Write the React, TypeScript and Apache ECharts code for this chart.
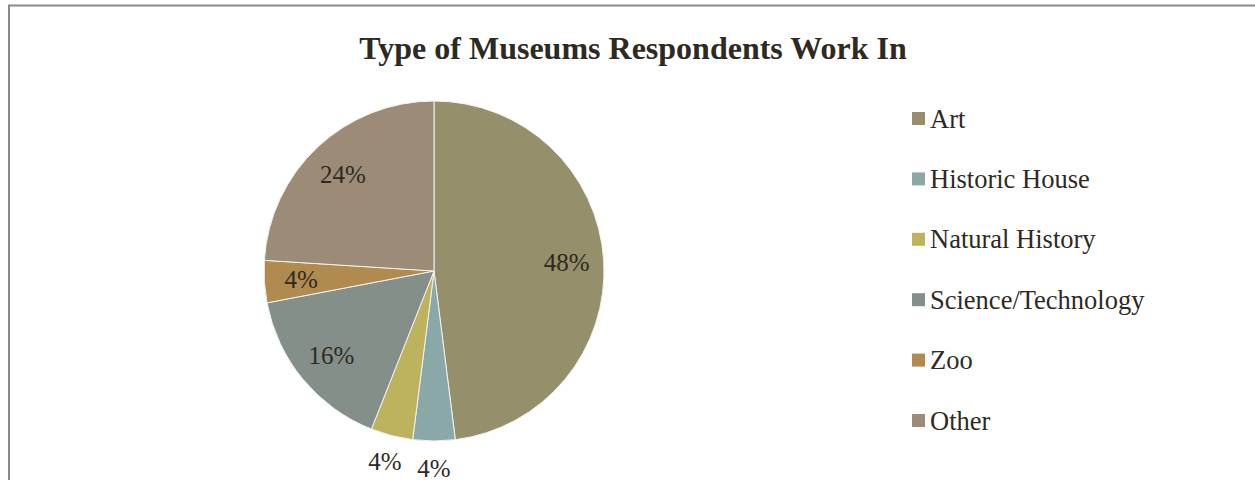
import React, { useEffect, useRef } from "react";
import * as echarts from "echarts";

const titleText = "Type of Museums Respondents Work In";
const categories = ["Art", "Historic House", "Natural History", "Science/Technology", "Zoo", "Other"];
const counts = [12, 1, 1, 4, 1, 6];
const colors = ["#968F6B", "#8BA8A9", "#BDB35E", "#848F8A", "#B08A4F", "#9C8B77"];
// which slices carry their label inside the pie, and which just below it
const insideLabel = [true, false, false, true, true, true];

const FONT = "'Liberation Serif', 'Times New Roman', serif";
const TEXT = "#2E2A22";

export default function App() {
  const ref = useRef<HTMLDivElement>(null);
  useEffect(() => {
    if (!ref.current) return;
    const chart = echarts.init(ref.current, null, { renderer: "svg" });
    const cx = 434;
    const cy = 271;
    const r = 170;
    const baseData = categories.map((name, i) => ({
      name,
      value: counts[i],
      itemStyle: { color: colors[i] },
    }));
    const overlay = (show: boolean[]) =>
      counts.map((v, i) => ({
        value: v,
        itemStyle: { color: "rgba(0,0,0,0)", borderWidth: 0 },
        label: { show: show[i] },
      }));
    chart.setOption({
      animation: false,
      backgroundColor: "#ffffff",
      graphic: [
        {
          type: "rect",
          shape: { x: 9, y: 5.5, width: 1400, height: 700 },
          style: { fill: "none", stroke: "#8A8A8A", lineWidth: 2 },
          silent: true,
        },
        {
          type: "text",
          x: 633,
          y: 48,
          style: {
            text: titleText,
            font: `bold 32px ${FONT}`,
            fill: TEXT,
            textAlign: "center",
            textVerticalAlign: "middle",
          },
        },
      ],
      legend: {
        orient: "vertical",
        left: 907,
        top: 100,
        itemGap: 33.4,
        itemWidth: 13,
        itemHeight: 13,
        icon: "rect",
        data: categories,
        selectedMode: false,
        itemStyle: { borderWidth: 0 },
        textStyle: { fontFamily: FONT, fontSize: 26.5, color: TEXT, lineHeight: 26 },
      },
      series: [
        {
          type: "pie",
          center: [cx, cy],
          radius: [0, r],
          startAngle: 90,
          clockwise: true,
          data: baseData,
          label: { show: false },
          labelLine: { show: false },
          itemStyle: { borderColor: "#F4F2EC", borderWidth: 1 },
          emphasis: { disabled: true },
        },
        {
          type: "pie",
          center: [cx, cy],
          radius: [90, r],
          startAngle: 90,
          clockwise: true,
          silent: true,
          legendHoverLink: false,
          data: overlay(insideLabel),
          label: {
            position: "inside",
            formatter: "{d}%",
            fontFamily: FONT,
            fontSize: 25,
            color: TEXT,
          },
          labelLine: { show: false },
          emphasis: { disabled: true },
        },
        {
          type: "pie",
          center: [cx, cy],
          radius: [r, r + 48],
          startAngle: 90,
          clockwise: true,
          silent: true,
          legendHoverLink: false,
          data: overlay(insideLabel.map((b) => !b)),
          label: {
            position: "inside",
            formatter: "{d}%",
            fontFamily: FONT,
            fontSize: 25,
            color: TEXT,
          },
          labelLine: { show: false },
          emphasis: { disabled: true },
        },
      ],
    });
    return () => chart.dispose();
  }, []);
  return (
    <div
      ref={ref}
      style={{ position: "fixed", left: 0, top: 0, width: 1255, height: 480 }}
    />
  );
}
